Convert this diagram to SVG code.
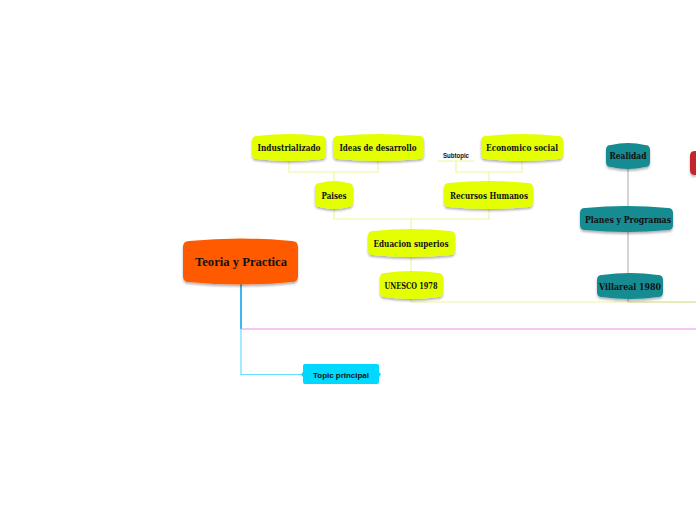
<svg xmlns="http://www.w3.org/2000/svg" width="696" height="520" viewBox="0 0 696 520">
<defs>
<filter id="sh" x="-20%" y="-30%" width="140%" height="180%">
<feDropShadow dx="0" dy="2" stdDeviation="1.2" flood-color="#000" flood-opacity="0.3"/>
</filter>
<style>
.y{fill:#e3ff00;filter:url(#sh)}
.t{fill:#138b91;filter:url(#sh)}
.o{fill:#ff5a00;filter:url(#sh)}
.lbl{font-family:"DejaVu Serif",serif;font-weight:bold;font-size:9.5px;fill:#111;text-anchor:middle}
.big{font-family:"Liberation Serif",serif;font-weight:bold;font-size:13px;fill:#111;text-anchor:middle}
.sans{font-family:"Liberation Sans",Arial,sans-serif;font-weight:bold;fill:#111;text-anchor:middle}
.yl{stroke:#eef59a;stroke-width:1.2;fill:none}
.gl{stroke:#b8b8b8;stroke-width:1.2;fill:none}
</style>
</defs>
<rect width="696" height="520" fill="#fff"/>
<g id="connectors">
<path class="yl" d="M289,160 V172 H378 V160 M334,172 V182"/>
<path class="yl" d="M438,161 H474 M456,161 V172 H522 V160 M489,172 V182"/>
<path class="yl" d="M334,208 V219 H489 V208 M411,219 V231"/>
<path class="yl" d="M411,256 V302 H696"/>
<path d="M628,302 H696" stroke="#e2e6b0" stroke-width="1.5" fill="none"/>
<path class="gl" d="M628,167 V208 M628,230 V275 M628,297 V302"/>
<path d="M241,282 V329" stroke="#3ab8f2" stroke-width="2" fill="none"/>
<path d="M241,329 V374.5 H303" stroke="#66ddff" stroke-width="1.2" fill="none"/>
<path d="M241,329 H696" stroke="#e88ee8" stroke-width="1.2" fill="none"/>
</g>
<g id="n-industrializado">
<path class="y" d="M252,141 Q252,136 257,136 Q289,132 321,136 Q326,136 326,141 V154 Q326,159 321,159 Q289,163 257,159 Q252,159 252,154 Z"/>
<text class="lbl" x="289" y="150.5" textLength="63" lengthAdjust="spacingAndGlyphs">Industrializado</text>
</g>
<g id="n-ideas">
<path class="y" d="M333,141 Q333,136 338,136 Q378.5,132 419,136 Q424,136 424,141 V154 Q424,159 419,159 Q378.5,163 338,159 Q333,159 333,154 Z"/>
<text class="lbl" x="378" y="150.5" textLength="77" lengthAdjust="spacingAndGlyphs">Ideas de desarrollo</text>
</g>
<g id="n-subtopic">
<text class="sans" x="456" y="157.5" font-size="6.5" textLength="26" lengthAdjust="spacingAndGlyphs">Subtopic</text>
</g>
<g id="n-economico">
<path class="y" d="M481,141 Q481,136 486,136 Q522,132 558,136 Q563,136 563,141 V154 Q563,159 558,159 Q522,163 486,159 Q481,159 481,154 Z"/>
<text class="lbl" x="522" y="150.5" textLength="72" lengthAdjust="spacingAndGlyphs">Economico social</text>
</g>
<g id="n-paises">
<path class="y" d="M315,188 Q315,183 320,183 Q334,179 348,183 Q353,183 353,188 V202 Q353,207 348,207 Q334,211 320,207 Q315,207 315,202 Z"/>
<text class="lbl" x="334" y="198.5" textLength="25" lengthAdjust="spacingAndGlyphs">Paises</text>
</g>
<g id="n-recursos">
<path class="y" d="M444,188 Q444,183 449,183 Q488.5,179 528,183 Q533,183 533,188 V202 Q533,207 528,207 Q488.5,211 449,207 Q444,207 444,202 Z"/>
<text class="lbl" x="489" y="198.5" textLength="78" lengthAdjust="spacingAndGlyphs">Recursos Humanos</text>
</g>
<g id="n-eduacion">
<path class="y" d="M368,236 Q368,231 373,231 Q411.5,227 450,231 Q455,231 455,236 V250 Q455,255 450,255 Q411.5,259 373,255 Q368,255 368,250 Z"/>
<text class="lbl" x="411" y="246.5" textLength="75" lengthAdjust="spacingAndGlyphs">Eduacion superios</text>
</g>
<g id="n-unesco">
<path class="y" d="M380,278 Q380,273 385,273 Q411.5,269 438,273 Q443,273 443,278 V292 Q443,297 438,297 Q411.5,301 385,297 Q380,297 380,292 Z"/>
<text class="lbl" x="411" y="288.5" textLength="53" lengthAdjust="spacingAndGlyphs">UNESCO 1978</text>
</g>
<g id="n-teoria">
<path class="o" d="M183,247 Q183,241 189,241 Q240.5,236 292,241 Q298,241 298,247 V276 Q298,282 292,282 Q240.5,287 189,282 Q183,282 183,276 Z"/>
<text class="big" x="241" y="266" textLength="92" lengthAdjust="spacingAndGlyphs">Teoria y Practica</text>
</g>
<g id="n-realidad">
<path class="t" d="M606,150 Q606,145 611,145 Q628,141 645,145 Q650,145 650,150 V162 Q650,167 645,167 Q628,171 611,167 Q606,167 606,162 Z"/>
<text class="lbl" x="628" y="159" textLength="37" lengthAdjust="spacingAndGlyphs">Realidad</text>
</g>
<g id="n-planes">
<path class="t" d="M580,213 Q580,208 585,208 Q626.5,204 668,208 Q673,208 673,213 V225 Q673,230 668,230 Q626.5,234 585,230 Q580,230 580,225 Z"/>
<text class="lbl" x="628" y="222.5" textLength="86" lengthAdjust="spacingAndGlyphs">Planes y Programas</text>
</g>
<g id="n-villareal">
<path class="t" d="M597,280 Q597,275 602,275 Q630,271 658,275 Q663,275 663,280 V292 Q663,297 658,297 Q630,301 602,297 Q597,297 597,292 Z"/>
<text class="lbl" x="630" y="289.5" textLength="62" lengthAdjust="spacingAndGlyphs">Villareal 1980</text>
</g>
<g id="n-red">
<path d="M690,156 Q690,151 695,151 L696,151 V175 L695,175 Q690,175 690,170 Z" fill="#c2282c" filter="url(#sh)"/>
</g>
<g id="n-topic">
<rect x="303" y="364" width="76" height="20" rx="2" fill="#00d8ff"/>
<path d="M301,374.5 L303,372 V377 Z M381,374.5 L379,372 V377 Z" fill="#00d8ff"/>
<text class="sans" x="341" y="377.5" font-size="8" textLength="56" lengthAdjust="spacingAndGlyphs">Topic principal</text>
</g>
</svg>
